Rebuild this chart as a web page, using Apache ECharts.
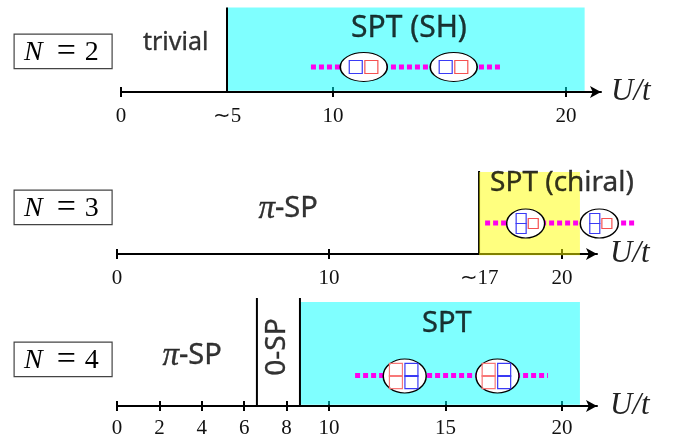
<!DOCTYPE html>
<html><head><meta charset="utf-8">
<style>html,body{margin:0;padding:0;background:#fff}#c{width:673px;height:439px}</style>
<script src="https://cdn.jsdelivr.net/npm/echarts@6/dist/echarts.min.js"></script>
</head><body><div id="c"></div>
<script>
// Axis is schematic: 0-10 and 10-20 have different lengths
var scaleU = [0, 10, 20];
var scalePos = [0, 212, 445];
function xPos(u){
  if(u<=10) return u*(scalePos[1]-scalePos[0])/10;
  return scalePos[1]+(u-10)*(scalePos[2]-scalePos[1])/10;
}
// ticks and tick labels
var n2Ticks=[0,10,20], n2Labels=[[0,'0'],[5,'\u223c5'],[10,'10'],[20,'20']];
var n3Ticks=[0,10,20], n3Labels=[[0,'0'],[10,'10'],[16.44,'\u223c17'],[20,'20']];
var n4Ticks=[0,2,4,6,8,10,15,20], n4Labels=[[0,'0'],[2,'2'],[4,'4'],[6,'6'],[8,'8'],[10,'10'],[15,'15'],[20,'20']];
// phase regions [from U, to U]
var n2Region=[5,20.8], n3Region=[16.44,20.77], n4Region=[8.63,20.77];
var n2Bounds=[5], n3Bounds=[16.44], n4Bounds=[6.6,8.63];
// dimers along the magenta chain
var n2Chain=[8.96,17.2], n3Chain=[16.7,23.2], n4Chain=[11.12,19.4];
var n2Dimers=[11.32,15.18], n3Dimers=[18.44,21.6], n4Dimers=[13.25,17.23];
// phase names [U, height above axis, text, size]
var n2Names=[[2.58,49,'trivial',25],[13.26,64,'SPT (SH)',30]];
var n3Names=[[8.07,45,'{pi|\u03c0}-SP',29],[20.0,71,'SPT (chiral)',28]];
var n4Names=[[3.54,50,'{pi|\u03c0}-SP',29],[15.06,82,'SPT',29]];
var n4Rot=[[7.55,59,'0-SP',28]];

var CYAN='rgba(0,255,255,0.5)', YEL='rgba(255,255,0,0.5)', BLUE='#3a3af5', RED='#f55050', PALE='#f87878', PINK='#ff00ee';
var SANS='"Noto Sans"', SERIF='"Liberation Serif"';

var panels=[
 {left:121,top:2,h:90,ticks:n2Ticks,labels:n2Labels,margin:14,nameGap:10,namePad:10,region:n2Region,rTop:84.5,rBot:1.2,rZ:2,bounds:n2Bounds,bTop:84.5,chain:n2Chain,chainY:25,dimers:n2Dimers,names:n2Names,
  ew:47,eh:29,ey:25,sq:13,marks:[[-8,0,BLUE],[7.6,0,RED]]},
 {left:117,top:165,h:89,ticks:n3Ticks,labels:n3Labels,margin:14,nameGap:13,namePad:14,region:n3Region,rTop:82,rBot:-1.2,rZ:5,bounds:n3Bounds,bTop:83,chain:n3Chain,chainY:31,dimers:n3Dimers,names:n3Names,
  ew:38,eh:29,ey:30.5,sq:10,marks:[[-4.5,-5,BLUE],[-4.5,5,BLUE],[7.6,0,RED]]},
 {left:117,top:296,h:110,ticks:n4Ticks,labels:n4Labels,margin:12,nameGap:13,namePad:14,region:n4Region,rTop:104,rBot:1.2,rZ:2,bounds:n4Bounds,bTop:108,chain:n4Chain,chainY:30.5,dimers:n4Dimers,names:n4Names,rot:n4Rot,
  ew:43,eh:34,ey:30,sq:13,marks:[[-8.8,-6.2,PALE],[-8.8,6.2,PALE],[6.7,-6.2,BLUE],[6.7,6.2,BLUE]]}
];

var grid=[],xAxis=[],yAxis=[],series=[];
panels.forEach(function(p,i){
  grid.push({left:p.left,top:p.top,width:480,height:p.h});
  var map={}; p.labels.forEach(function(l){map[xPos(l[0]).toFixed(2)]=l[1];});
  var gi=i, xi=xAxis.length;
  var tickVals=p.ticks.map(xPos), labelVals=p.labels.map(function(l){return xPos(l[0]);});
  xAxis.push({type:'value',gridIndex:gi,min:0,max:480,position:'bottom',splitLine:{show:false},
    axisLine:{show:true,onZero:false,lineStyle:{color:'#000',width:2},symbol:['none','arrow'],symbolSize:[9,11]},
    axisTick:{show:true,length:5,customValues:tickVals,lineStyle:{color:'#000',width:2}},
    axisLabel:{show:true,customValues:labelVals,margin:p.margin,fontFamily:SERIF,fontSize:21,color:'#111',hideOverlap:false,
      formatter:function(v){return map[(+v).toFixed(2)]||'';}},
    name:'U/t',nameLocation:'end',nameGap:p.nameGap,nameTextStyle:{fontFamily:SERIF,fontStyle:'italic',fontSize:31,color:'#222',verticalAlign:'middle',padding:[p.namePad,0,0,0]}});
  xAxis.push({type:'value',gridIndex:gi,min:0,max:480,position:'bottom',splitLine:{show:false},
    axisLine:{show:false,onZero:false},
    axisTick:{show:true,inside:true,length:5,customValues:tickVals,lineStyle:{color:'#000',width:2}},
    axisLabel:{show:false}});
  var yi=yAxis.length;
  yAxis.push({type:'value',gridIndex:gi,min:0,max:p.h,show:false});

  // coloured phase region
  series.push({type:'custom',xAxisIndex:xi,yAxisIndex:yi,z:p.rZ,silent:true,clip:false,
    data:[[xPos(p.region[0]),xPos(p.region[1]),p.rBot,p.rTop]],
    renderItem:function(params,api){
      var a=api.coord([api.value(0),api.value(3)]), b=api.coord([api.value(1),api.value(2)]);
      return {type:'rect',shape:{x:a[0],y:a[1],width:b[0]-a[0],height:b[1]-a[1]},style:{fill:i===1?YEL:CYAN}};
    }});
  // phase boundaries
  p.bounds.forEach(function(b){
    series.push({type:'line',xAxisIndex:xi,yAxisIndex:yi,z:3,silent:true,symbol:'none',clip:false,
      data:[[xPos(b),0],[xPos(b),p.bTop]],lineStyle:{color:'#000',width:2}});
  });
  // magenta chain
  series.push({type:'custom',xAxisIndex:xi,yAxisIndex:yi,z:6,silent:true,clip:false,
    data:[[xPos(p.chain[0]),xPos(p.chain[1]),p.chainY]],
    renderItem:function(params,api){
      var a=api.coord([api.value(0),api.value(2)]), b=api.coord([api.value(1),api.value(2)]);
      return {type:'line',shape:{x1:a[0],y1:a[1],x2:b[0],y2:b[1]},style:{stroke:PINK,lineWidth:5,lineDash:[5,3],fill:null}};
    }});
  // dimer ellipses
  series.push({type:'scatter',xAxisIndex:xi,yAxisIndex:yi,z:7,silent:true,clip:false,symbol:'circle',symbolSize:[p.ew,p.eh],
    data:p.dimers.map(function(u){return [xPos(u),p.ey];}),
    itemStyle:{color:'#fff',opacity:1,borderColor:'#000',borderWidth:1.3}});
  // site squares
  p.marks.forEach(function(m){
    series.push({type:'scatter',xAxisIndex:xi,yAxisIndex:yi,z:8,silent:true,clip:false,symbol:'rect',symbolSize:p.sq,symbolOffset:[m[0],m[1]],
      data:p.dimers.map(function(u){return [xPos(u),p.ey];}),
      itemStyle:{color:'transparent',opacity:1,borderColor:m[2],borderWidth:1.2}});
  });
  // phase names
  var nameLabel=function(rot){return {show:true,position:'inside',align:'center',verticalAlign:'middle',rotate:rot,
      fontFamily:SANS,color:'#000',textBorderColor:'#000',textBorderWidth:0.35,
      formatter:function(d){return d.value[2];},
      rich:{pi:{fontFamily:SERIF,fontStyle:'italic',fontSize:33,color:'#000'}}};};
  var toPt=function(n){return {value:[xPos(n[0]),n[1],n[2]],label:{fontSize:n[3]}};};
  series.push({type:'scatter',xAxisIndex:xi,yAxisIndex:yi,z:9,silent:true,clip:false,symbolSize:1,
    itemStyle:{color:'transparent'},data:p.names.map(toPt),label:nameLabel(0)});
  if(p.rot){
    series.push({type:'scatter',xAxisIndex:xi,yAxisIndex:yi,z:9,silent:true,clip:false,symbolSize:1,
      itemStyle:{color:'transparent'},data:p.rot.map(toPt),label:nameLabel(90)});
  }
});

// N = x boxes
var boxTops=[33.5,189.5,341.5], boxNames=['2','3','4'], graphic=[];
boxNames.forEach(function(n,i){
  graphic.push({type:'rect',left:13.5,top:boxTops[i],shape:{width:98,height:34.5},style:{fill:'#fff',stroke:'#444',lineWidth:1.2}});
  graphic.push({type:'text',left:24,top:boxTops[i]+2,style:{
    text:'{n|N}{e|=}{d|'+n+'}',
    rich:{n:{fontFamily:SERIF,fontStyle:'italic',fontSize:28,color:'#222',padding:[0,14,0,0]},
          e:{fontFamily:SERIF,fontSize:34,color:'#222',padding:[0,9,0,0]},
          d:{fontFamily:SERIF,fontSize:28,color:'#222'}}}});
});

echarts.init(document.getElementById('c'),null,{renderer:'canvas'}).setOption({
  animation:false,backgroundColor:'#fff',grid:grid,xAxis:xAxis,yAxis:yAxis,series:series,graphic:graphic,tooltip:{show:false},legend:{show:false}
});
</script></body></html>
